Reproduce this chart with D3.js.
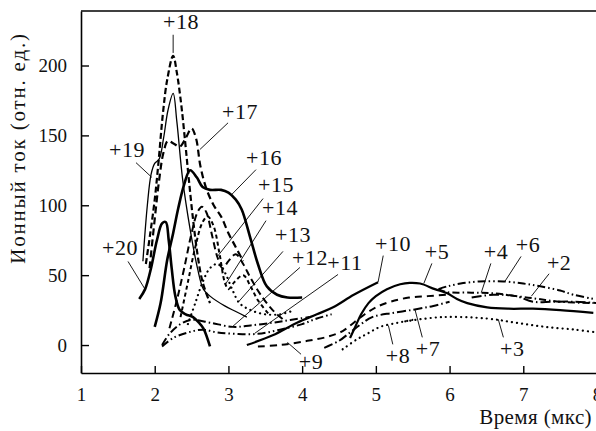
<!DOCTYPE html>
<html>
<head>
<meta charset="utf-8">
<script src="https://cdn.jsdelivr.net/npm/d3@7"></script>
<style>
body { margin: 0; background: #fff; }
text { font-family: "Liberation Serif", "DejaVu Serif", serif; fill: #111; }
</style>
</head>
<body>
<svg id="main" width="596" height="431"></svg>
<script>
// charge states of the ions, one curve each
const charges = [2, 3, 4, 5, 6, 7, 8, 9, 10, 11, 12, 13, 14, 15, 16, 17, 18, 19, 20];

// time (us), ion current (rel. units)
const c2  = [[6.3,34],[6.6,36],[6.9,35],[7.13,31],[7.4,31],[7.7,31],[8.0,30]];
const c3  = [[5.4,17],[5.9,20],[6.5,19],[6.9,16],[7.3,13],[7.7,11],[8.0,9]];
const c4  = [[5.85,40],[5.95,38],[6.3,37.5],[6.6,37],[6.9,35],[7.2,33],[7.5,31],[7.95,30]];
const c5  = [[4.65,5],[4.72,13],[4.8,22],[4.9,30],[5.0,35],[5.15,40],[5.33,43.5],[5.46,44.5],[5.6,44],[5.8,40],[5.97,37],[6.1,33],[6.24,30],[6.51,27],[6.8,26],[7.13,26],[7.5,25],[7.95,23]];
const c6  = [[5.85,40],[5.97,42],[6.15,44],[6.4,45.5],[6.73,45.5],[7.0,44],[7.23,42],[7.5,39],[7.68,36],[7.95,33]];
const c7  = [[4.3,-2],[4.5,3],[4.65,9],[4.8,15],[4.95,20],[5.23,23],[5.53,25.5],[5.78,28],[6.0,31]];
const c8  = [[4.55,-3],[4.74,4],[4.88,8],[5.06,13],[5.3,16],[5.5,18]];
const c9  = [[3.4,-1],[3.7,0],[4.07,3],[4.35,6],[4.55,10],[4.7,16],[4.85,22],[5.0,27],[5.2,31],[5.45,34],[5.7,35],[5.95,36]];
const c10 = [[3.25,0],[3.6,7],[3.93,16],[4.2,22],[4.42,27],[4.7,36],[5.03,45]];
const c11 = [[2.1,-1],[2.25,5],[2.45,9],[2.65,11],[2.85,9],[3.1,8],[3.4,8],[3.7,11],[4.0,15],[4.2,19],[4.4,22]];
const c12 = [[2.1,0],[2.2,8],[2.35,15],[2.5,18],[2.75,16],[3.06,13],[3.3,14],[3.6,16],[3.84,18],[4.1,20]];
const c13 = [[2.45,15],[2.55,30],[2.65,45],[2.75,55],[2.85,58],[2.95,52],[3.05,40],[3.15,30],[3.3,25],[3.5,22],[3.7,22],[3.9,25]];
const c14 = [[2.35,20],[2.45,45],[2.55,70],[2.65,88],[2.72,92],[2.8,85],[2.88,65],[2.95,45],[3.0,40],[3.08,45],[3.2,50],[3.3,42],[3.4,32],[3.55,22]];
const c15 = [[2.2,12],[2.3,32],[2.4,55],[2.5,80],[2.58,95],[2.64,99],[2.7,95],[2.78,78],[2.85,63],[2.92,55],[3.0,60],[3.1,65],[3.2,58],[3.3,48],[3.45,35],[3.6,25],[3.75,18]];
const c16 = [[2.0,13],[2.08,30],[2.17,61],[2.25,80],[2.32,98],[2.4,115],[2.48,125],[2.57,120],[2.65,113],[2.75,111],[2.9,111],[3.0,109],[3.1,104],[3.18,97],[3.29,78],[3.4,58],[3.52,42],[3.66,36],[3.8,34],[4.0,34]];
const c17 = [[1.93,55],[2.0,90],[2.06,118],[2.12,138],[2.18,146],[2.26,144],[2.34,142],[2.42,148],[2.5,155],[2.56,148],[2.62,128],[2.7,112],[2.8,100],[2.9,92],[3.0,80],[3.1,70],[3.2,60]];
const c18 = [[1.88,58],[1.94,80],[2.0,104],[2.05,130],[2.11,165],[2.17,190],[2.25,207],[2.3,195],[2.36,172],[2.41,147],[2.46,120],[2.52,90],[2.58,65],[2.65,45],[2.75,30]];
const c19 = [[1.84,60],[1.9,100],[1.95,122],[2.0,130],[2.06,133],[2.12,148],[2.18,168],[2.25,180],[2.3,160],[2.38,118],[2.48,83],[2.58,55],[2.66,40],[2.75,35],[2.95,28],[3.1,24],[3.25,20]];
const c20 = [[1.79,33],[1.87,40],[1.95,55],[2.03,75],[2.1,87],[2.15,88],[2.19,75],[2.23,55],[2.28,35],[2.34,25],[2.42,22],[2.52,20],[2.6,16],[2.66,12],[2.75,-1]];
const series = [c2, c3, c4, c5, c6, c7, c8, c9, c10, c11, c12, c13, c14, c15, c16, c17, c18, c19, c20];

const xTicks = [1, 2, 3, 4, 5, 6, 7, 8];
const yTicks = [0, 50, 100, 150, 200];

// label anchor [x, y] and leader line [x1, y1, x2, y2], in data units
const labelAt = {
  2: [7.486, 59, 7.35, 51, 7.11, 35],
  3: [6.85, -2.4, 6.73, 5.5, 6.66, 18.5],
  4: [6.63, 67, 6.56, 58.4, 6.43, 37.5],
  5: [5.83, 67, 5.76, 58.4, 5.65, 44],
  6: [7.065, 72, 6.97, 63.4, 6.75, 45.5],
  7: [5.708, -2.4, 5.63, 5.5, 5.53, 25.5],
  8: [5.3, -7.4, 5.23, 0.5, 5.17, 14],
  9: [4.12, -11.6, 3.985, -6.6, 3.8, 1.9],
  10: [5.233, 72.6, 5.1, 64, 5.03, 45],
  11: [4.58, 59, 4.487, 50.5, 3.36, 8.5],
  12: [4.107, 62.6, 3.97, 55.5, 3.06, 13.4],
  13: [3.877, 79, 3.74, 67, 3.13, 30.5],
  14: [3.70, 98.4, 3.51, 89, 2.954, 43],
  15: [3.646, 114.8, 3.47, 104.8, 2.845, 63],
  16: [3.483, 134, 3.374, 125.5, 3.05, 108],
  17: [3.157, 167, 2.995, 159, 2.615, 140],
  18: [2.357, 231.2, 2.25, 222, 2.25, 209],
  19: [1.624, 139.8, 1.746, 130.5, 1.96, 120],
  20: [1.53, 69.8, 1.638, 59.8, 1.868, 40]
};

// line look per charge state
const dotted = { w: 2.2, dash: "0.1,5", cap: "round" };
const lineStyle = {
  2: { w: 2, dash: "10,3,1.5,3" },
  3: dotted,
  4: { w: 2, dash: "7,3,1.5,3" },
  5: { w: 2.2, dash: null },
  6: { w: 2, dash: "8,3,1.5,3,1.5,3" },
  7: { w: 2, dash: "9,3,1.5,3" },
  8: dotted,
  9: { w: 2, dash: "7,5" },
  10: { w: 2.2, dash: null },
  11: { w: 2, dash: "8,3,1.5,3,1.5,3" },
  12: { w: 2, dash: "8,3,1.5,3" },
  13: dotted,
  14: { w: 2, dash: "4,3" },
  15: { w: 2, dash: "7,4" },
  16: { w: 2.6, dash: null },
  17: { w: 2.2, dash: "7,4" },
  18: { w: 2.2, dash: "6,3" },
  19: { w: 1.3, dash: null },
  20: { w: 2.6, dash: null }
};

function draw() {
  const svg = d3.select("#main");
  const left = 81, right = 597, top = 11, bottom = 373;

  const x = d3.scaleLinear().domain([1, 8]).range([left, right]);
  const y = d3.scaleLinear().domain([-20, 239]).range([bottom, top]);

  svg.append("clipPath").attr("id", "plot")
    .append("rect")
    .attr("x", left).attr("y", top)
    .attr("width", right - left).attr("height", bottom - top);

  const line = d3.line()
    .x(d => x(d[0]))
    .y(d => y(d[1]))
    .curve(d3.curveCatmullRom.alpha(0.5));

  const curves = svg.append("g").attr("clip-path", "url(#plot)");
  charges.forEach((q, i) => {
    const st = lineStyle[q];
    curves.append("path")
      .datum(series[i])
      .attr("d", line)
      .attr("fill", "none")
      .attr("stroke", "#000")
      .attr("stroke-width", st.w)
      .attr("stroke-dasharray", st.dash)
      .attr("stroke-linecap", st.cap || "butt")
      .attr("stroke-linejoin", "round");
  });

  // labels with leader lines
  charges.forEach(q => {
    const a = labelAt[q];
    svg.append("line")
      .attr("x1", x(a[2])).attr("y1", y(a[3]))
      .attr("x2", x(a[4])).attr("y2", y(a[5]))
      .attr("stroke", "#000")
      .attr("stroke-width", 0.9);
    svg.append("text")
      .attr("x", x(a[0]))
      .attr("y", y(a[1]))
      .attr("text-anchor", "middle")
      .attr("dominant-baseline", "central")
      .attr("font-size", 22)
      .attr("letter-spacing", 0.5)
      .text("+" + q);
  });

  // axes
  const xAxis = d3.axisBottom(x).tickValues(xTicks).tickFormat(d3.format("d"))
    .tickSizeInner(-7).tickSizeOuter(0).tickPadding(15);
  const yAxis = d3.axisLeft(y).tickValues(yTicks).tickFormat(d3.format("d"))
    .tickSizeInner(-8).tickSizeOuter(0).tickPadding(14);

  const gx = svg.append("g").attr("transform", `translate(0,${bottom})`).call(xAxis);
  const gy = svg.append("g").attr("transform", `translate(${left},0)`).call(yAxis);
  [gx, gy].forEach(g => {
    g.select(".domain").attr("stroke", "#000").attr("stroke-width", 1.6);
    g.selectAll(".tick line").attr("stroke", "#000").attr("stroke-width", 1.4);
    g.selectAll(".tick text")
      .attr("font-family", "Liberation Serif")
      .attr("font-size", 19)
      .attr("fill", "#111");
  });

  svg.append("line")
    .attr("x1", left).attr("x2", 596)
    .attr("y1", top).attr("y2", top)
    .attr("stroke", "#000").attr("stroke-width", 1.6);

  svg.append("text")
    .attr("x", 592).attr("y", 424)
    .attr("text-anchor", "end")
    .attr("font-size", 21)
    .attr("letter-spacing", 0.4)
    .text("Время (мкс)");

  svg.append("text")
    .attr("transform", "translate(25,148) rotate(-90)")
    .attr("text-anchor", "middle")
    .attr("font-size", 21)
    .attr("letter-spacing", 1.8)
    .text("Ионный ток (отн. ед.)");
}

draw();
</script>
</body>
</html>
